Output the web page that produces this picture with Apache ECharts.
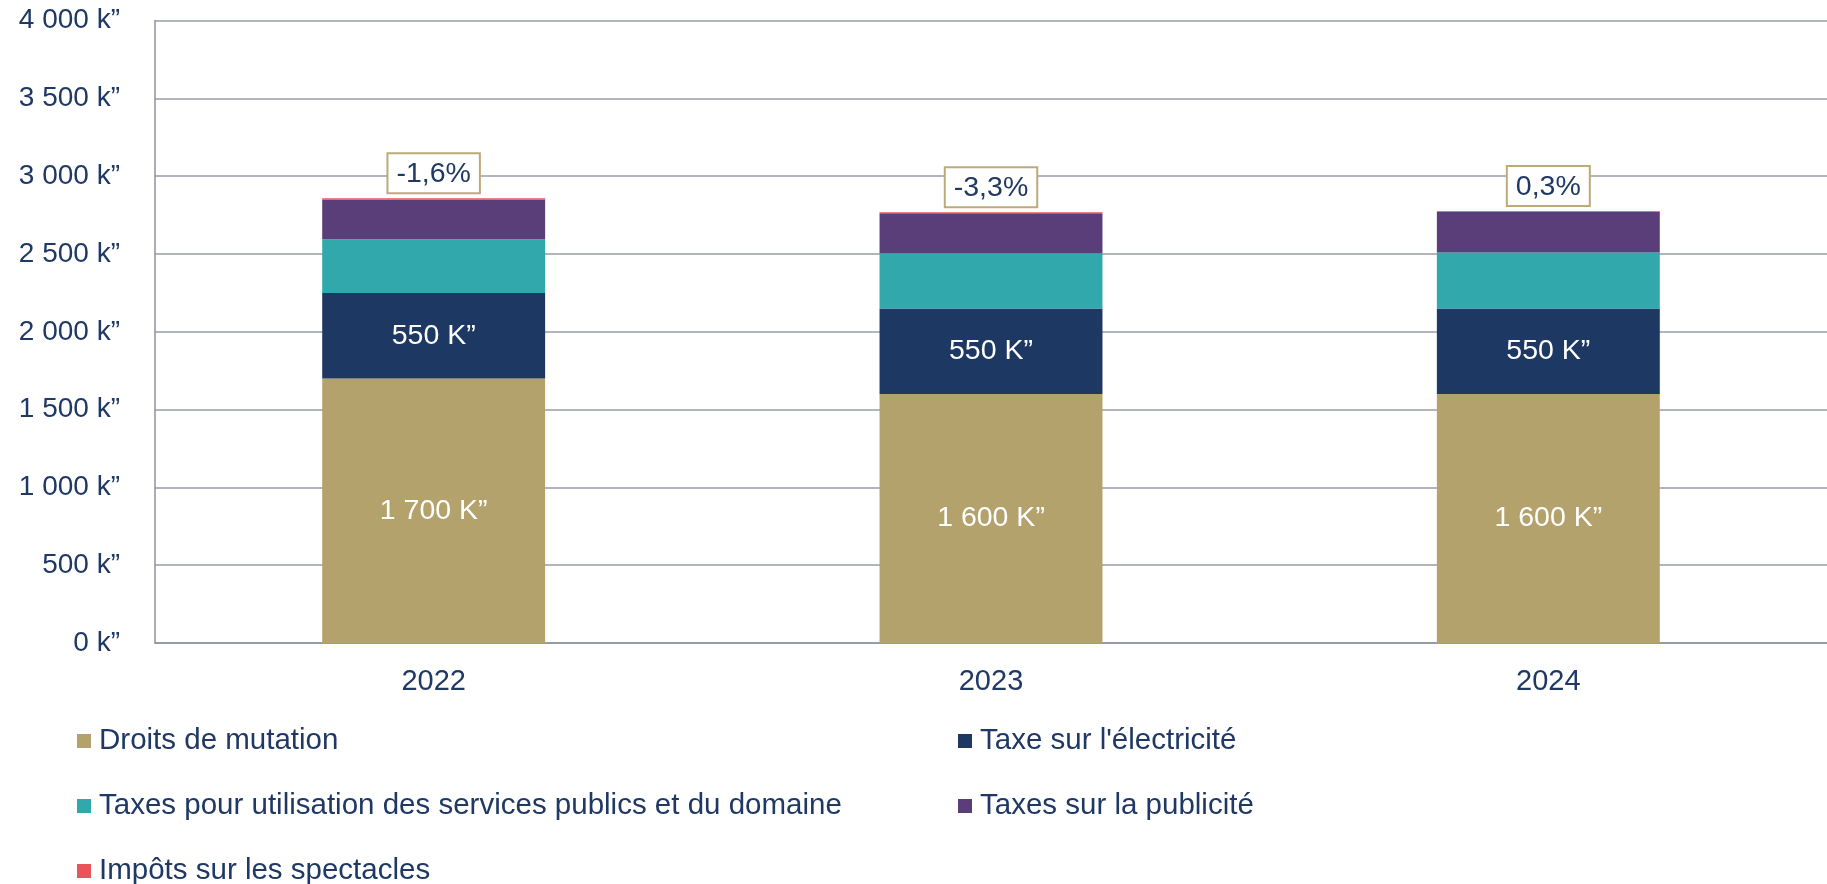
<!DOCTYPE html>
<html>
<head>
<meta charset="utf-8">
<script src="https://cdn.jsdelivr.net/npm/echarts@6/dist/echarts.min.js"></script>
<style>
  html, body { margin: 0; padding: 0; background: #fff; }
  #chart { width: 1827px; height: 884px; }
</style>
</head>
<body>
<div id="chart"></div>
<script>
// categories and series (k€)
const years = ["2022", "2023", "2024"];
const droitsMutation = [1700, 1600, 1600];
const taxeElectricite = [550, 550, 550];
const taxesServices = [345, 355, 360];
const taxesPublicite = [255, 257, 262];
const impotsSpectacles = [8, 6, 4];
const evolution = ["-1,6%", "-3,3%", "0,3%"];
const yTicks = [0, 500, 1000, 1500, 2000, 2500, 3000, 3500, 4000];

const navy = "#1f3864";
const font = "Liberation Sans, Arial, sans-serif";

function fmt(v) {
  return String(v).replace(/\B(?=(\d{3})+(?!\d))/g, " ");
}

const chart = echarts.init(document.getElementById("chart"));

const insideLabel = {
  show: true,
  position: "inside",
  color: "#fff",
  fontSize: 28.5,
  fontFamily: font,
  formatter: p => fmt(p.value) + " K\u201d"
};

// legend look shared by the three blocks
function legendBlock(left, top, names) {
  return {
    orient: "vertical",
    left: left,
    top: top,
    padding: 0,
    icon: "rect",
    itemWidth: 14,
    itemHeight: 14,
    itemGap: 35,
    textStyle: { color: navy, fontSize: 29.5, lineHeight: 30, fontFamily: font, padding: [0, 0, 0, 3] },
    data: names
  };
}

const option = {
  animation: false,
  textStyle: { fontFamily: font },
  grid: { left: 155, right: 0, top: 20.6, bottom: 241 },
  legend: [
    legendBlock(77, 726, ["Droits de mutation", "Taxes pour utilisation des services publics et du domaine"]),
    legendBlock(77, 856, ["Impôts sur les spectacles"]),
    legendBlock(958, 726, ["Taxe sur l'électricité", "Taxes sur la publicité"])
  ],
  xAxis: {
    type: "category",
    data: years,
    axisLine: { lineStyle: { color: "#8f929e", width: 1.5 } },
    axisTick: { show: false },
    axisLabel: { color: navy, fontSize: 29, margin: 24 }
  },
  yAxis: {
    type: "value",
    min: yTicks[0],
    max: yTicks[yTicks.length - 1],
    interval: 500,
    axisLine: { show: true, lineStyle: { color: "#8f929e", width: 1.5 } },
    axisTick: { show: false },
    splitLine: { lineStyle: { color: "#9a9ca8", width: 1.5 } },
    axisLabel: {
      color: navy,
      fontSize: 28,
      margin: 35,
      formatter: v => fmt(v) + " k\u201d"
    }
  },
  series: [
    {
      name: "Droits de mutation",
      type: "bar",
      stack: "total",
      barWidth: "40%",
      itemStyle: { color: "#b4a26c" },
      label: insideLabel,
      data: droitsMutation
    },
    {
      name: "Taxe sur l'électricité",
      type: "bar",
      stack: "total",
      itemStyle: { color: "#1e3864" },
      label: insideLabel,
      data: taxeElectricite
    },
    {
      name: "Taxes pour utilisation des services publics et du domaine",
      type: "bar",
      stack: "total",
      itemStyle: { color: "#30a8ac" },
      data: taxesServices
    },
    {
      name: "Taxes sur la publicité",
      type: "bar",
      stack: "total",
      itemStyle: { color: "#5a3e79" },
      data: taxesPublicite
    },
    {
      name: "Impôts sur les spectacles",
      type: "bar",
      stack: "total",
      itemStyle: { color: "#e8545a" },
      label: {
        show: true,
        position: "top",
        distance: 6,
        color: navy,
        fontSize: 28.5,
        lineHeight: 30,
        fontFamily: font,
        backgroundColor: "#fff",
        borderColor: "#bcab78",
        borderWidth: 2,
        padding: [5, 8, 3, 8],
        formatter: p => evolution[p.dataIndex]
      },
      data: impotsSpectacles
    }
  ]
};

chart.setOption(option);
</script>
</body>
</html>
